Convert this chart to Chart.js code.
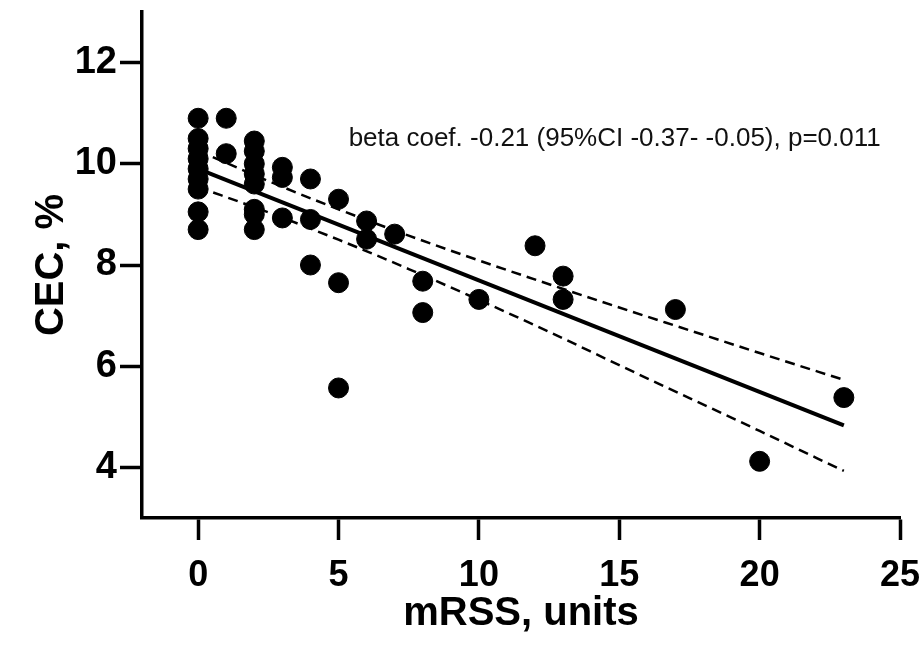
<!DOCTYPE html>
<html>
<head>
<meta charset="utf-8">
<script src="https://cdn.jsdelivr.net/npm/chart.js@4.4.1/dist/chart.umd.min.js"></script>
<style>
  body{margin:0;background:#fff;}
  #wrap{width:924px;height:648px;}
</style>
</head>
<body>
<div id="wrap"><canvas id="chart" width="924" height="648"></canvas></div>
<script>
// ===== Data =====
const mrss = [0,0,0,0,0,0,0,0,0, 1,1, 2,2,2,2,2,2,2,2, 3,3,3, 4,4,4, 5,5,5, 6,6, 7, 8,8, 10, 12, 13,13, 17, 20, 23];
const cec  = [10.9,10.5,10.3,10.1,9.9,9.7,9.5,9.05,8.7, 10.9,10.2, 10.45,10.25,10.0,9.8,9.6,9.1,9.0,8.7,
              9.93,9.73,8.93, 9.7,8.9,8.0, 9.3,7.65,5.57, 8.87,8.51, 8.61, 7.68,7.06, 7.32, 8.38, 7.78,7.32, 7.12, 4.12, 5.38];

// regression line + 95% CI band
const fitX   = [0, 23];
const fitY   = [9.9, 4.83];
const bandX  = [0, 2.5, 5, 7.5, 10, 12.5, 15, 17.5, 20, 23];
const upperY = [10.26, 9.66, 9.10, 8.58, 8.09, 7.62, 7.16, 6.71, 6.26, 5.73];
const lowerY = [9.54, 9.04, 8.50, 7.92, 7.31, 6.68, 6.02, 5.37, 4.72, 3.93];

const xTicks = [0, 5, 10, 15, 20, 25];
const yTicks = [4, 6, 8, 10, 12];
const note = "beta coef. -0.21 (95%CI -0.37- -0.05), p=0.011";

const toPts = (xs, ys) => xs.map((x, i) => ({x: x, y: ys[i]}));

// ===== annotation text =====
const notePlugin = {
  id: "note",
  afterDatasetsDraw(chart){
    const {ctx, scales} = chart;
    ctx.save();
    ctx.font = "26px 'Liberation Sans', Arial, sans-serif";
    ctx.fillStyle = "#111";
    ctx.textBaseline = "middle";
    ctx.fillText(note, scales.x.getPixelForValue(5.36), scales.y.getPixelForValue(10.5));
    ctx.restore();
  }
};

const tickFont = {family: "'Liberation Sans', Arial, sans-serif", size: 38, weight: "bold"};
const titleFont = {family: "'Liberation Sans', Arial, sans-serif", size: 40, weight: "bold"};

new Chart(document.getElementById("chart"), {
  type: "scatter",
  data: {
    datasets: [
      {data: toPts(mrss, cec), backgroundColor: "#000", borderColor: "#000", pointRadius: 10, pointHoverRadius: 10},
      {type: "line", data: toPts(fitX, fitY), borderColor: "#000", borderWidth: 4, pointRadius: 0, fill: false},
      {type: "line", data: toPts(bandX, upperY), borderColor: "#000", borderWidth: 2.5, borderDash: [10, 6],
       pointRadius: 0, fill: false, cubicInterpolationMode: "monotone"},
      {type: "line", data: toPts(bandX, lowerY), borderColor: "#000", borderWidth: 2.5, borderDash: [10, 6],
       pointRadius: 0, fill: false, cubicInterpolationMode: "monotone"}
    ]
  },
  options: {
    responsive: false,
    animation: false,
    layout: {padding: {top: 12, right: 24, left: 0, bottom: 0}},
    plugins: {legend: {display: false}, tooltip: {enabled: false}},
    scales: {
      x: {
        type: "linear", min: -2, max: 25,
        afterBuildTicks: s => { s.ticks = xTicks.map(v => ({value: v})); },
        afterFit: s => { s.height = 130; s.paddingLeft = 0; s.paddingRight = 0; },
        border: {display: true, color: "#000", width: 3.5},
        grid: {drawOnChartArea: false, drawTicks: true, tickLength: 22, tickWidth: 3.5, tickColor: "#000"},
        ticks: {color: "#000", font: {...tickFont, size: 36}, padding: 14, maxRotation: 0},
        title: {display: true, text: "mRSS, units", color: "#000", font: titleFont, padding: {top: 0, bottom: 10}}
      },
      y: {
        type: "linear", min: 3, max: 13,
        afterBuildTicks: s => { s.ticks = yTicks.map(v => ({value: v})); },
        afterFit: s => { s.width = 142; s.paddingTop = 0; s.paddingBottom = 0; },
        border: {display: true, color: "#000", width: 3.5},
        grid: {drawOnChartArea: false, drawTicks: true, tickLength: 22, tickWidth: 3.5, tickColor: "#000"},
        ticks: {color: "#000", font: tickFont, padding: 3},
        title: {display: true, text: "CEC, %", color: "#000", font: titleFont, padding: {top: 28, bottom: 0}}
      }
    }
  },
  plugins: [notePlugin]
});
</script>
</body>
</html>
